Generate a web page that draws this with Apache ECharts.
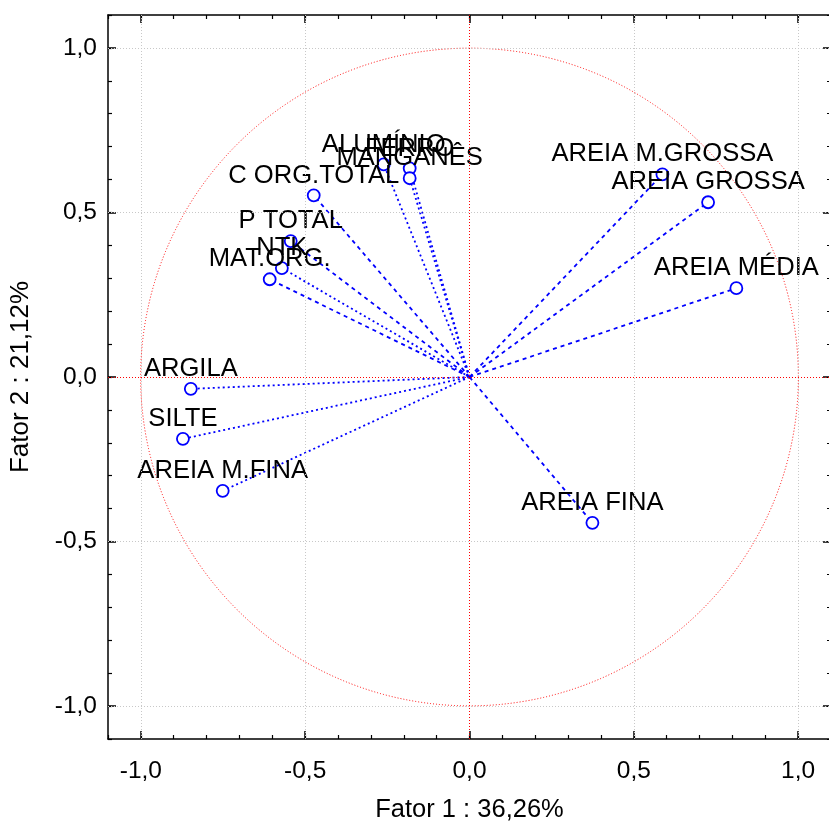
<!DOCTYPE html>
<html>
<head>
<meta charset="utf-8">
<script src="https://cdn.jsdelivr.net/npm/echarts@6/dist/echarts.min.js"></script>
<style>html,body{margin:0;padding:0;background:#fff}#c{width:829px;height:823px}</style>
</head>
<body>
<div id="c"></div>
<script>
// Variables (factor loadings)
const names = ['ALUMÍNIO','FERRO','MANGANÊS','C ORG.TOTAL','P TOTAL','NTK','MAT.ORG.','ARGILA','SILTE','AREIA M.FINA','AREIA M.GROSSA','AREIA GROSSA','AREIA MÉDIA','AREIA FINA'];
const fator1 = [-0.261,-0.182,-0.182,-0.474,-0.544,-0.571,-0.608,-0.848,-0.872,-0.751,0.587,0.726,0.812,0.374];
const fator2 = [0.646,0.634,0.604,0.552,0.413,0.331,0.297,-0.036,-0.188,-0.346,0.616,0.531,0.270,-0.443];
const lineKinds = ['dotted','dotted','dotted','dashed','dashed','dotted','dashed','dotted','dotted','dotted','dashed','dashed','dashed','dashed'];
const tickLabels = [-1.0,-0.5,0.0,0.5,1.0];
const gridValues = [-1.0,-0.5,0.5,1.0];
const xTitle = 'Fator 1 : 36,26%';
const yTitle = 'Fator 2 : 21,12%';

const FONT = 'Liberation Sans, Arial, sans-serif';
const chart = echarts.init(document.getElementById('c'), null, {renderer:'canvas'});
const fmt = v => v.toFixed(1).replace('.', ',');
const dashMap = {dashed:[4,4], dotted:[2,3]};

function axisSet(dim, pos, withLabel) {
  const minor = {
    type:'value', position:pos, min:-1.1, max:1.1, interval:0.1,
    axisLine:{show:true, onZero:false, lineStyle:{color:'#000', width:1.5}},
    axisTick:{show:true, inside:true, length:4, lineStyle:{color:'#000', width:1.2}},
    axisLabel:{show:false}, splitLine:{show:false}
  };
  const major = {
    type:'value', position:pos, min:-1.1, max:1.1, interval:0.1,
    axisLine:{show:false, onZero:false},
    axisTick:{show:true, inside:true, length:8, customValues:tickLabels, lineStyle:{color:'#000', width:1.5}},
    axisLabel:{show:false}, splitLine:{show:false}
  };
  if (withLabel) {
    minor.axisLabel = {show:true, customValues:tickLabels, formatter:fmt, color:'#000', fontSize:24.5, fontFamily:FONT, margin: dim==='x' ? 20 : 11};
    minor.name = dim==='x' ? xTitle : yTitle;
    minor.nameLocation = 'middle';
    minor.nameGap = dim==='x' ? 58 : 74;
    minor.nameTextStyle = {color:'#000', fontSize: dim==='x' ? 25.5 : 26, fontFamily:FONT};
  }
  return [minor, major];
}

const xAxes = [...axisSet('x','bottom',true), ...axisSet('x','top',false)];
const yAxes = [...axisSet('y','left',true), ...axisSet('y','right',false)];

const series = [];
// reference lines
series.push({
  type:'line', data:[], silent:true,
  markLine:{
    silent:true, symbol:'none', label:{show:false}, animation:false,
    data:[
      ...gridValues.map(v=>({xAxis:v, lineStyle:{color:'#c8c8c8', type:[1,2], width:1}})),
      ...gridValues.map(v=>({yAxis:v, lineStyle:{color:'#c8c8c8', type:[1,2], width:1}})),
      {xAxis:0, lineStyle:{color:'#ff0000', type:[1,2], width:1}},
      {yAxis:0, lineStyle:{color:'#ff0000', type:[1,2], width:1}}
    ]
  }
});
// unit circle
series.push({
  type:'custom', silent:true, data:[[0,0]], z:1,
  renderItem:(params, api) => {
    const c = api.coord([0,0]);
    const s = api.size([1,1]);
    return {type:'circle', shape:{cx:c[0], cy:c[1], r:(s[0]+s[1])/2},
      style:{fill:'none', stroke:'#ff0000', lineWidth:1, lineDash:[1,2]}};
  }
});
// vectors
names.forEach((n,i) => {
  series.push({
    type:'line', name:n, z:3,
    data:[
      {value:[0,0], symbol:'none', label:{show:false}},
      {value:[fator1[i], fator2[i]]}
    ],
    lineStyle:{color:'#0000ff', width:1.8, type:dashMap[lineKinds[i]]},
    symbol:'circle', symbolSize:12, showSymbol:true,
    itemStyle:{color:'#fff', borderColor:'#0000ff', borderWidth:1.8},
    label:{show:true, position:'top', distance:0, formatter:n, color:'#000', fontSize:25.6, fontFamily:FONT},
    animation:false
  });
});

chart.setOption({
  animation:false,
  grid:{left:108, top:15, right:-2, bottom:84, containLabel:false, outerBoundsMode:'none'},
  xAxis:xAxes, yAxis:yAxes, series
});
</script>
</body>
</html>
